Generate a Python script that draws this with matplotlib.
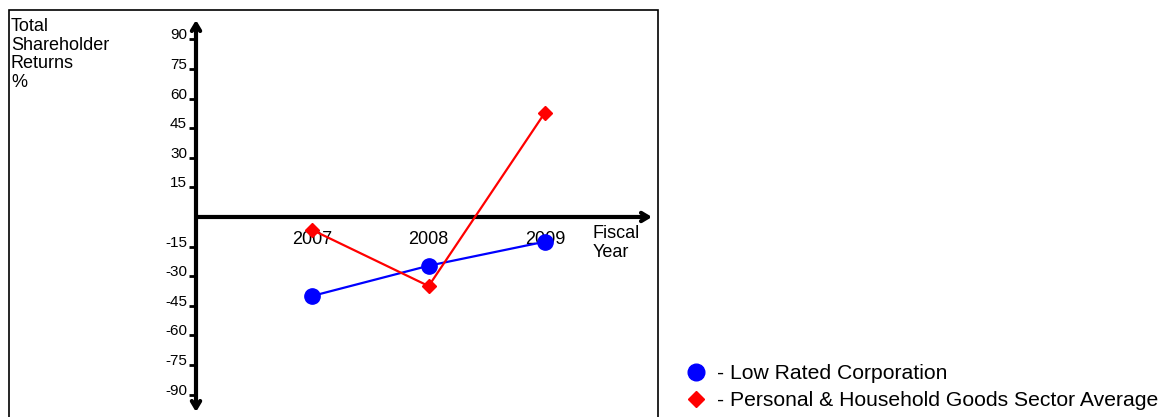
import matplotlib
matplotlib.use("Agg")
import matplotlib.pyplot as plt
from matplotlib.lines import Line2D
from matplotlib.patches import Rectangle

plt.rcParams["font.family"] = ["Liberation Sans", "DejaVu Sans"]

# data
years = [2007, 2008, 2009]
low_rated = [-40.0, -24.7, -12.5]
sector_avg = [-6.6, -35.0, 52.9]
ytick_values = [90, 75, 60, 45, 30, 15, -15, -30, -45, -60, -75, -90]
ytick_labels = [str(v) for v in ytick_values]
series_names = ["- Low Rated Corporation", "- Personal & Household Goods Sector Average"]

W, H = 1163, 417
fig = plt.figure(figsize=(W / 100, H / 100), dpi=100)

# outer frame (bottom edge runs off the image)
fig.add_artist(Rectangle((9 / W, -0.05), (658 - 9) / W, 1 - 10 / H + 0.05,
                         transform=fig.transFigure, fill=False, lw=1.2, color="black"))

# axes: x from y-axis (px 196) to arrow tip (px 652), y from px 412 to 20
ax = fig.add_axes([196 / W, 1 - 412 / H, (652 - 196) / W, (412 - 20) / H])
x0, x1 = 2006.0, 2009.92
y0, y1 = -98.8, 99.8
ax.set_xlim(x0, x1)
ax.set_ylim(y0, y1)
for s in ax.spines.values():
    s.set_visible(False)
ax.patch.set_alpha(0)

# axis lines with arrows
ax.annotate("", xy=(x0, y1), xytext=(x0, y0),
            arrowprops=dict(arrowstyle="<->,head_length=0.5,head_width=0.3", lw=3,
                            color="black", shrinkA=0, shrinkB=0), annotation_clip=False)
ax.annotate("", xy=(x1, 0), xytext=(x0, 0),
            arrowprops=dict(arrowstyle="->,head_length=0.5,head_width=0.3", lw=3,
                            color="black", shrinkA=0, shrinkB=0), annotation_clip=False)

# y ticks
ax.set_yticks(ytick_values, ytick_labels)
ax.tick_params(axis="y", length=5, width=2, direction="out", pad=1.5, labelsize=11)
for t in ax.get_yticklabels():
    t.set_verticalalignment("baseline")

# x ticks along the zero line
ax.spines["bottom"].set_position(("data", 0))
ax.set_xticks(years, [str(y) for y in years])
ax.tick_params(axis="x", length=0, pad=10, labelsize=13)

ax.plot(years, low_rated, color="blue", lw=1.6, marker="o", markersize=11, zorder=3)
ax.plot(years, sector_avg, color="red", lw=1.6, marker="D", markersize=7.5, zorder=4)

ax.text(2009.41, -4.2, "Fiscal\nYear", fontsize=13, ha="left", va="top", linespacing=1.14)

fig.text(11 / W, 1 - 18 / H, "Total\nShareholder\nReturns\n%", fontsize=13,
         ha="left", va="top", linespacing=1.12)

handles = [
    Line2D([], [], color="blue", marker="o", linestyle="none", markersize=12),
    Line2D([], [], color="red", marker="D", linestyle="none", markersize=8),
]
fig.legend(handles, series_names, loc="lower left", bbox_to_anchor=(685 / W, 1 - 410 / H),
           frameon=False, fontsize=15.2, handlelength=1.0, handletextpad=0.5,
           labelspacing=0.38, borderaxespad=0, borderpad=0)

fig.savefig("out.png", dpi=100)
